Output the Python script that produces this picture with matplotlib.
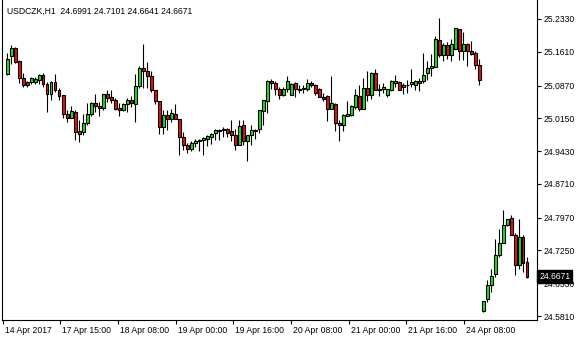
import matplotlib
matplotlib.use("Agg")
import matplotlib.pyplot as plt
import matplotlib.transforms as mtransforms

plt.rcParams['font.family'] = ['Liberation Sans', 'DejaVu Sans']

# USDCZK H1 bars
opens = [25.1116, 25.1525, 25.1700, 25.1408, 25.1028, 25.0940, 25.0954, 25.0940, 25.0998, 25.1101,
         25.0896, 25.0677, 25.0940, 25.0765, 25.0662, 25.0238, 25.0164, 25.0296, 24.9872, 24.9857,
         25.0047, 25.0238, 25.0486, 25.0413, 25.0370, 25.0677, 25.0618, 25.0559, 25.0370, 25.0326,
         25.0471, 25.0559, 25.0471, 25.0852, 25.1247, 25.1188, 25.1072, 25.0765, 25.0530, 24.9959,
         25.0223, 25.0135, 25.0238, 25.0135, 24.9740, 24.9558, 24.9484, 24.9615, 24.9645, 24.9674,
         24.9703, 24.9747, 24.9821, 24.9865, 24.9894, 24.9909, 24.9879, 24.9777, 24.9571, 24.9996,
         24.9659, 24.9791, 24.9879, 24.9923, 25.0304, 25.0537, 25.0976, 25.0918, 25.0800, 25.0669,
         25.0787, 25.0669, 25.0918, 25.0787, 25.0787, 25.0800, 25.0932, 25.0874, 25.0800, 25.0625,
         25.0640, 25.0361, 25.0464, 25.0040, 24.9996, 25.0201, 25.0230, 25.0405, 25.0640, 25.0361,
         25.0816, 25.0669, 25.1138, 25.0772, 25.0800, 25.0669, 25.0772, 25.0932, 25.0947, 25.0844,
         25.0874, 25.0903, 25.0874, 25.0962, 25.0976, 25.1151, 25.1254, 25.1283, 25.1869, 25.1533,
         25.1753, 25.1546, 25.1678, 25.2104, 25.1621, 25.1781, 25.1621, 25.1590, 25.1314,
         24.5914, 24.6177, 24.6485, 24.6733, 24.7143, 24.7407, 24.7802, 24.7962, 24.7595, 24.6924,
         24.7538, 24.6991]
highs = [25.1577, 25.1759, 25.1715, 25.1423, 25.1145, 25.0969, 25.1057, 25.1057, 25.1130, 25.1145,
         25.0954, 25.0960, 25.1116, 25.0808, 25.0662, 25.0326, 25.0427, 25.0326, 25.0120, 25.0238,
         25.0486, 25.0515, 25.0677, 25.0515, 25.0677, 25.0765, 25.0765, 25.0589, 25.0486, 25.0486,
         25.0589, 25.0633, 25.1116, 25.1291, 25.1788, 25.1393, 25.1188, 25.0765, 25.0530, 25.0339,
         25.0326, 25.0355, 25.0457, 25.0135, 24.9857, 24.9602, 24.9659, 24.9689, 24.9703, 24.9733,
         24.9791, 24.9835, 24.9923, 24.9923, 24.9967, 24.9938, 25.0113, 24.9923, 25.0113, 25.0113,
         24.9777, 24.9996, 24.9923, 25.0333, 25.0552, 25.0991, 25.1020, 25.0976, 25.0844, 25.0844,
         25.1079, 25.0918, 25.0947, 25.0874, 25.0874, 25.1020, 25.0976, 25.0903, 25.0816, 25.0699,
         25.0669, 25.1079, 25.0479, 25.0113, 25.0245, 25.0523, 25.0435, 25.0800, 25.0888, 25.1035,
         25.1199, 25.1167, 25.1239, 25.0903, 25.0918, 25.0787, 25.0991, 25.1094, 25.0976, 25.0918,
         25.0991, 25.1239, 25.0991, 25.1035, 25.1577, 25.1415, 25.1562, 25.1957, 25.2352, 25.1810,
         25.1825, 25.1884, 25.2132, 25.2117, 25.2045, 25.1810, 25.1840, 25.1621, 25.1445,
         24.6140, 24.6601, 24.6836, 24.7494, 24.7727, 24.8138, 24.7947, 24.8021, 24.7626, 24.7947,
         24.7595, 24.7101]
lows = [25.1110, 25.1335, 25.1364, 25.0932, 25.0844, 25.0844, 25.0903, 25.0910, 25.0903, 25.0844,
        25.0296, 25.0545, 25.0735, 25.0545, 25.0150, 25.0062, 25.0150, 24.9681, 24.9623, 24.9784,
        25.0003, 25.0209, 25.0296, 25.0193, 25.0326, 25.0515, 25.0486, 25.0326, 25.0209, 25.0311,
        25.0296, 25.0398, 25.0062, 25.0808, 25.0808, 25.0808, 25.0721, 25.0457, 24.9813, 24.9813,
        24.9887, 25.0062, 25.0135, 24.9345, 24.9455, 24.9382, 24.9440, 24.9513, 24.9440, 24.9352,
        24.9542, 24.9586, 24.9674, 24.9674, 24.9733, 24.9733, 24.9645, 24.9455, 24.9571, 24.9571,
        24.9220, 24.9571, 24.9703, 24.9821, 24.9996, 25.0260, 25.0800, 25.0669, 25.0581, 25.0640,
        25.0728, 25.0669, 25.0611, 25.0713, 25.0699, 25.0757, 25.0844, 25.0669, 25.0611, 25.0537,
        25.0098, 25.0348, 24.9879, 24.9659, 24.9879, 25.0201, 25.0201, 25.0361, 25.0317, 25.0361,
        25.0523, 25.0567, 25.0772, 25.0640, 25.0713, 25.0611, 25.0743, 25.0831, 25.0772, 25.0684,
        25.0713, 25.0831, 25.0772, 25.0757, 25.0932, 25.0991, 25.1079, 25.1283, 25.1489, 25.1415,
        25.1459, 25.1415, 25.1678, 25.1430, 25.1430, 25.1298, 25.1533, 25.1239, 25.0888,
        24.5899, 24.6118, 24.6338, 24.6674, 24.7113, 24.7407, 24.7786, 24.7582, 24.6704, 24.6849,
        24.6777, 24.6641]
closes = [25.1445, 25.1700, 25.1386, 25.1028, 25.0881, 25.0881, 25.1028, 25.1013, 25.1101, 25.0910,
          25.0677, 25.0954, 25.0765, 25.0647, 25.0238, 25.0164, 25.0311, 24.9843, 24.9813, 25.0047,
          25.0238, 25.0486, 25.0413, 25.0370, 25.0677, 25.0603, 25.0559, 25.0355, 25.0326, 25.0471,
          25.0559, 25.0486, 25.0852, 25.1247, 25.1188, 25.1072, 25.0765, 25.0530, 24.9959, 25.0223,
          25.0135, 25.0267, 25.0135, 24.9740, 24.9564, 24.9484, 24.9602, 24.9659, 24.9674, 24.9718,
          24.9762, 24.9806, 24.9894, 24.9894, 24.9923, 24.9835, 24.9777, 24.9571, 24.9981, 24.9659,
          24.9777, 24.9894, 24.9894, 25.0333, 25.0552, 25.0976, 25.0918, 25.0800, 25.0669, 25.0800,
          25.0962, 25.0903, 25.0787, 25.0772, 25.0816, 25.0918, 25.0874, 25.0699, 25.0611, 25.0581,
          25.0361, 25.0479, 25.0040, 24.9996, 25.0216, 25.0245, 25.0420, 25.0669, 25.0361, 25.0816,
          25.0669, 25.1138, 25.0772, 25.0800, 25.0831, 25.0787, 25.0962, 25.0976, 25.0772, 25.0888,
          25.0888, 25.0947, 25.0962, 25.0918, 25.1094, 25.1254, 25.1298, 25.1884, 25.1546, 25.1753,
          25.1546, 25.1781, 25.2132, 25.1634, 25.1781, 25.1634, 25.1562, 25.1314, 25.0991,
          24.6134, 24.6485, 24.6689, 24.7143, 24.7407, 24.7802, 24.7947, 24.7595, 24.6937, 24.7538,
          24.6981, 24.6671]

price_ticks = [25.2330, 25.1610, 25.0870, 25.0150, 24.9430, 24.8710, 24.7970, 24.7250, 24.6530, 24.5810]
time_labels = ['14 Apr 2017', '17 Apr 15:00', '18 Apr 08:00', '19 Apr 00:00', '19 Apr 16:00',
               '20 Apr 08:00', '21 Apr 00:00', '21 Apr 16:00', '24 Apr 08:00']
time_label_pos = [-1.0, 13.2, 27.6, 42.1, 56.4, 70.9, 85.4, 99.7, 114.2]

bull_col = '#1fe01f'
bear_col = '#e01515'

fig = plt.figure(figsize=(5.8, 3.4), dpi=100)
ax = fig.add_axes([2 / 580, 1 - 319.5 / 340, 534.5 / 580, 319.5 / 340])

xs = list(range(len(opens)))

# wicks
ax.vlines(xs, lows, highs, color='black', linewidth=0.8, zorder=2)

# bodies
for i in xs:
    o, c = opens[i], closes[i]
    col = bull_col if c > o else (bear_col if c < o else 'black')
    ax.bar(i, abs(c - o), bottom=min(o, c), width=0.6, color=col,
           edgecolor='black', linewidth=0.8, zorder=3)

ax.set_xlim(-1.325, 132.3)
ax.set_ylim(24.5734, 25.2747)

for s in ['left', 'right', 'bottom']:
    ax.spines[s].set_linewidth(0.8)
    ax.spines[s].set_color('black')
ax.spines['top'].set_visible(False)

ax.yaxis.tick_right()
ax.set_yticks(price_ticks)
ax.set_yticklabels(['%.4f' % p for p in price_ticks])
ax.tick_params(axis='y', direction='out', length=3, width=0.8, pad=2, labelsize=6.2)

ax.set_xticks(time_label_pos)
ax.set_xticklabels(time_labels)
ax.tick_params(axis='x', direction='out', length=3, width=0.8, pad=2, labelsize=6.2)
offset = mtransforms.ScaledTranslation(2 / 100, 0, fig.dpi_scale_trans)
for lbl in ax.get_xticklabels():
    lbl.set_horizontalalignment('left')
    lbl.set_transform(lbl.get_transform() + offset)

# current price marker
last = closes[-1]
ax.text(1.005, last, '%.4f' % last, transform=ax.get_yaxis_transform(),
        ha='left', va='center', color='white', fontsize=6.2, clip_on=False, zorder=10,
        bbox=dict(boxstyle='square,pad=0.25', facecolor='black', edgecolor='black'))

# header
fig.text(7 / 580, 1 - 11 / 340,
         'USDCZK,H1  %.4f %.4f %.4f %.4f' % (opens[-1], highs[-1], lows[-1], closes[-1]),
         ha='left', va='center', fontsize=6.2, color='black')

fig.savefig('out.png', dpi=100)
